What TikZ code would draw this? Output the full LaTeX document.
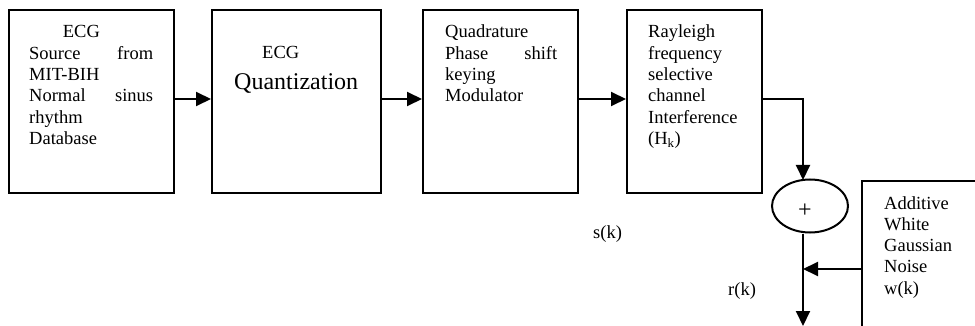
\documentclass[tikz,border=0pt]{standalone}
\usepackage{fontspec}
\setmainfont{Liberation Serif}
\usetikzlibrary{arrows.meta,shapes.geometric}
\begin{document}
\begin{tikzpicture}[x=1pt,y=-1pt,
  blk/.style={draw,line width=2pt,rectangle,inner sep=0pt},
  arr/.style={line width=2pt,-{Triangle[length=15pt,width=14pt]}},
  txt/.style={anchor=base west,inner sep=0pt,font=\fontsize{18.5}{21.3}\selectfont}]
\useasboundingbox (0,0) rectangle (975,326);
\clip (0,0) rectangle (975,326);
\fill[white] (0,0) rectangle (975,326);
% boxes
\node[blk,minimum width=165pt,minimum height=183pt] (b1) at (91.5,101.5) {};
\node[blk,minimum width=169pt,minimum height=183pt] (b2) at (296.5,101.5) {};
\node[blk,minimum width=155pt,minimum height=183pt] (b3) at (500.5,101.5) {};
\node[blk,minimum width=135pt,minimum height=183pt] (b4) at (694.5,101.5) {};
\node[blk,minimum width=140pt,minimum height=170pt] (noise) at (932,266) {};
\node[draw,ellipse,line width=2pt,minimum width=76pt,minimum height=53pt,inner sep=0pt] (sum) at (810,206) {};
% texts
\node[txt] (t1) at (29,38) {\parbox[t]{124pt}{\raggedright\hspace*{33.7pt}ECG\\Source\hfill from\\MIT-BIH\\Normal\hfill sinus\\rhythm\\Database}};
\node[txt] (t2a) at (262,59) {ECG};
\node[txt,font=\fontsize{24}{28}\selectfont] (t2b) at (234,90) {Quantization};
\node[txt] (t3) at (445,38) {\parbox[t]{112pt}{\raggedright Quadrature\\Phase\hfill shift\\keying\\Modulator}};
\node[txt] (t4) at (648,38) {\parbox[t]{110pt}{\raggedright Rayleigh\\frequency\\selective\\channel\\Interference\\(H\textsubscript{k})}};
\node[txt] (t5) at (884,209) {\parbox[t]{90pt}{\raggedright Additive\\White\\Gaussian\\Noise\\w(k)}};
\node[inner sep=0pt,font=\fontsize{24}{28}\selectfont] (plus) at (805,210.5) {+};
\node[txt] (sk) at (593,238) {s(k)};
\node[txt] (rk) at (728,295) {r(k)};
% connectors
\coordinate (top) at (803,180);
\coordinate (bot) at (top |- sum.south);
\coordinate (out) at (803,326);
\coordinate (jn) at (803,269);
\draw[arr] ([yshift=2.5pt]b1.east) -- ([yshift=2.5pt]b2.west);
\draw[arr] ([yshift=2.5pt]b2.east) -- ([yshift=2.5pt]b3.west);
\draw[arr] ([yshift=2.5pt]b3.east) -- ([yshift=2.5pt]b4.west);
\draw[arr] ([yshift=2.5pt]b4.east) -| (top);
\draw[arr] (bot) -- (out);
\draw[arr] (noise.west |- jn) -- (jn);
\end{tikzpicture}
\end{document}
